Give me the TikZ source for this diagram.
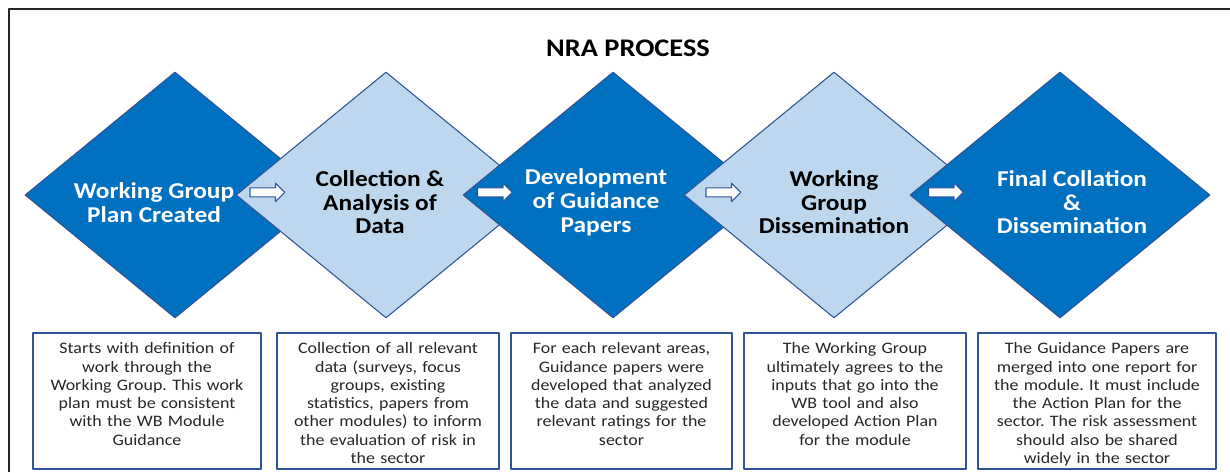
\documentclass[tikz,border=0pt]{standalone}
\usepackage{fontspec}
\setmainfont{Carlito}[FakeStretch=1.12]
\frenchspacing
\usetikzlibrary{shapes.geometric,shapes.arrows,positioning}
\definecolor{nradark}{HTML}{0070C0}
\definecolor{nralight}{HTML}{BDD7EE}
\definecolor{nraline}{HTML}{2F5597}
\tikzset{
  stage/.style={diamond, draw=nraline, line width=0.8pt, minimum width=225pt, minimum height=184.5pt, inner sep=0pt},
  darkstage/.style={stage, fill=nradark},
  lightstage/.style={stage, fill=nralight},
  stagetext/.style={align=center, inner sep=0pt, yshift=-5.5pt, font=\bfseries\fontsize{17}{17.8}\selectfont},
  stepnext/.style={single arrow, draw=nraline, fill=white, line width=0.8pt, minimum height=26pt, inner xsep=0pt, inner ysep=3pt, single arrow head extend=3.5pt},
  notebox/.style={draw=nraline, line width=1.2pt, anchor=north, align=center, inner xsep=3pt, inner ysep=3pt, text height=12.75pt, text depth=83.25pt, font=\fontsize{12}{13.7}\selectfont, text=black!85}
}
\begin{document}
\begin{tikzpicture}[x=0.75pt, y=-0.75pt, line join=round]
\useasboundingbox (0,0) rectangle (1230,472);
\draw[line width=1.5pt, black!85] (9,472) -- (9,9) -- (1230,9);
\node[font=\bfseries\fontsize{19}{22}\selectfont] (title) at (628,48) {NRA PROCESS};
% the five stages, each one over the one before
\node[darkstage, label={[stagetext, text=white, xshift=-15.75pt]center:{Working Group\\Plan Created}}] (plan) at (175,195) {};
\node[lightstage, label={[stagetext, text=black, xshift=-4.5pt]center:{Collection \&\\Analysis of\\Data}}] (collect) at (386,195) {};
\node[darkstage, label={[stagetext, text=white, xshift=-12.75pt]center:{Development\\of Guidance\\Papers}}] (develop) at (613,195) {};
\node[lightstage, label={[stagetext, text=black]center:{Working\\Group\\Dissemination}}] (dissem) at (834,195) {};
\node[darkstage, label={[stagetext, text=white, xshift=9pt]center:{Final Collation\\\&\\Dissemination}}] (final) at (1060,195) {};
% small block arrows
\node[stepnext, right=10.5pt of collect.west, yshift=2pt] (a1) {};
\node[stepnext, right=11pt of develop.west, yshift=2pt] (a2) {};
\node[stepnext, right=16.5pt of dissem.west, yshift=2pt] (a3) {};
\node[stepnext, right=14pt of final.west, yshift=2pt] (a4) {};
% notes under the stages
\node[notebox, text width=165pt] (n1) at (147,332) {Starts with definition of\\work through the\\Working Group. This work\\plan must be consistent\\with the WB Module\\Guidance};
\node[notebox, text width=160.5pt] (n2) at (388,332) {Collection of all relevant\\data (surveys, focus\\groups, existing\\statistics, papers from\\other modules) to inform\\the evaluation of risk in\\the sector};
\node[notebox, text width=160pt] (n3) at (621.5,332) {For each relevant areas,\\Guidance papers were\\developed that analyzed\\the data and suggested\\relevant ratings for the\\sector};
\node[notebox, text width=160.5pt] (n4) at (855,332) {The Working Group\\ultimately agrees to the\\inputs that go into the\\WB tool and also\\developed Action Plan\\for the module};
\node[notebox, text width=172.5pt] (n5) at (1097,332) {The Guidance Papers are\\merged into one report for\\the module. It must include\\the Action Plan for the\\sector. The risk assessment\\should also be shared\\widely in the sector};
\end{tikzpicture}
\end{document}
